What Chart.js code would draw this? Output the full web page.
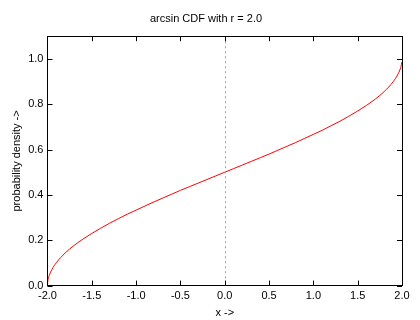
<!DOCTYPE html>
<html>
<head>
<meta charset="utf-8">
<script src="https://cdn.jsdelivr.net/npm/chart.js@4/dist/chart.umd.min.js"></script>
<style>
  html, body { margin: 0; padding: 0; background: #fff; }
  #wrap { width: 420px; height: 320px; }
</style>
</head>
<body>
<div id="wrap"><canvas id="cdfChart"></canvas></div>
<script>
// values
const xValues = [-2.0, -1.998, -1.99, -1.98, -1.95, -1.9, -1.8, -1.7, -1.6, -1.5, -1.4, -1.3, -1.2, -1.1,
  -1.0, -0.9, -0.8, -0.7, -0.6, -0.5, -0.4, -0.3, -0.2, -0.1, 0.0,
  0.1, 0.2, 0.3, 0.4, 0.5, 0.6, 0.7, 0.8, 0.9, 1.0,
  1.1, 1.2, 1.3, 1.4, 1.5, 1.6, 1.7, 1.8, 1.9, 1.95, 1.98, 1.99, 1.998];
const cdfValues = [0.0, 0.014, 0.032, 0.045, 0.071, 0.101, 0.144, 0.177, 0.205, 0.230, 0.253, 0.275, 0.295, 0.315,
  0.333, 0.351, 0.369, 0.386, 0.403, 0.420, 0.436, 0.452, 0.468, 0.484, 0.500,
  0.516, 0.532, 0.548, 0.564, 0.580, 0.597, 0.614, 0.631, 0.649, 0.667,
  0.685, 0.705, 0.725, 0.747, 0.770, 0.795, 0.823, 0.856, 0.899, 0.929, 0.955, 0.968, 0.986];
const xTicks = [-2.0, -1.5, -1.0, -0.5, 0.0, 0.5, 1.0, 1.5, 2.0];
const yTicks = [0.0, 0.2, 0.4, 0.6, 0.8, 1.0];

const font = { family: 'Liberation Sans, Arial, sans-serif', size: 11, weight: 'normal' };

// gnuplot-like frame, inward ticks on all sides and dotted zero axis
const framePlugin = {
  id: 'frame',
  afterDatasetsDraw(chart) {
    const ctx = chart.ctx;
    const a = chart.chartArea;
    const xs = chart.scales.x, ys = chart.scales.y;
    ctx.save();
    // zero axis
    ctx.strokeStyle = '#a0a0a0';
    ctx.lineWidth = 1;
    ctx.setLineDash([2, 3]);
    const x0 = Math.round(xs.getPixelForValue(0)) + 0.5;
    ctx.beginPath();
    ctx.moveTo(x0, a.top);
    ctx.lineTo(x0, a.bottom);
    ctx.stroke();
    ctx.setLineDash([]);
    // frame
    ctx.strokeStyle = '#000';
    ctx.strokeRect(Math.round(a.left) + 0.5, Math.round(a.top) + 0.5,
      Math.round(a.right - a.left), Math.round(a.bottom - a.top));
    const len = 5;
    ctx.beginPath();
    xTicks.forEach(v => {
      const px = Math.round(xs.getPixelForValue(v)) + 0.5;
      ctx.moveTo(px, a.bottom); ctx.lineTo(px, a.bottom - len);
      ctx.moveTo(px, a.top); ctx.lineTo(px, a.top + len);
    });
    yTicks.forEach(v => {
      const py = Math.round(ys.getPixelForValue(v)) + 0.5;
      ctx.moveTo(a.left, py); ctx.lineTo(a.left + len, py);
      ctx.moveTo(a.right, py); ctx.lineTo(a.right - len, py);
    });
    ctx.stroke();
    ctx.restore();
  }
};

new Chart(document.getElementById('cdfChart'), {
  type: 'line',
  data: {
    datasets: [{
      label: 'arcsin CDF',
      data: xValues.map((x, i) => ({ x: x, y: cdfValues[i] })),
      borderColor: '#ff0000',
      borderWidth: 1,
      pointRadius: 0,
      cubicInterpolationMode: 'monotone',
      fill: false
    }]
  },
  options: {
    responsive: true,
    maintainAspectRatio: false,
    animation: false,
    layout: { padding: { top: 0, right: 18, bottom: 0, left: 10 } },
    plugins: {
      legend: { display: false },
      tooltip: { enabled: false },
      title: {
        display: true,
        text: 'arcsin CDF with r = 2.0',
        color: '#000',
        font: font,
        padding: { top: 12, bottom: 11 }
      }
    },
    scales: {
      x: {
        type: 'linear',
        min: -2.0,
        max: 2.0,
        grid: { display: false, drawTicks: false },
        border: { display: false },
        afterBuildTicks: s => { s.ticks = xTicks.map(v => ({ value: v })); },
        ticks: {
          color: '#000',
          font: font,
          padding: 4,
          maxRotation: 0,
          callback: v => v.toFixed(1)
        },
        title: { display: true, text: 'x ->', color: '#000', font: font, padding: { top: 0, bottom: 0 } }
      },
      y: {
        min: 0,
        max: 1.1,
        grid: { display: false, drawTicks: false },
        border: { display: false },
        afterBuildTicks: s => { s.ticks = yTicks.map(v => ({ value: v })); },
        ticks: {
          color: '#000',
          font: font,
          padding: 4,
          callback: v => v.toFixed(1)
        },
        title: { display: true, text: 'probability density ->', color: '#000', font: font, padding: { top: 0, bottom: 1 } }
      }
    }
  },
  plugins: [framePlugin]
});
</script>
</body>
</html>
